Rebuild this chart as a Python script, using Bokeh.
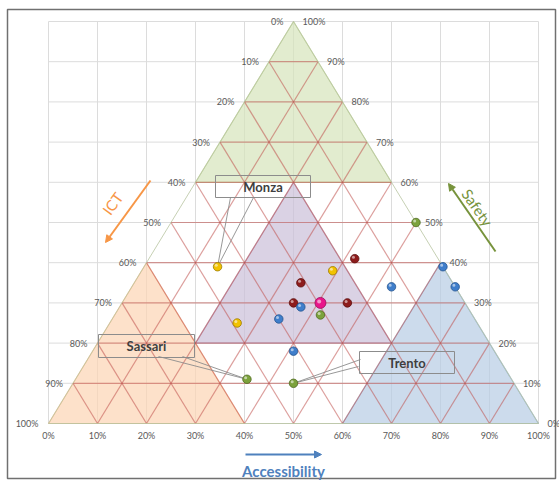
import math
from bokeh.plotting import figure
from bokeh.models import Range1d, Arrow, NormalHead, ColumnDataSource
from bokeh.core.properties import value
from bokeh.embed import file_html
from bokeh.resources import INLINE

# ---------------- data (percent: Accessibility, ICT, Safety) ----------------
accessibility = [15, 39, 26, 42, 34, 35, 46, 40.5, 37, 34, 41, 61, 66, 53, 50, 42, 35, 45]
ict           = [46, 23, 49, 17, 31, 35, 24, 29.5, 34, 40, 41, 0, 0, 13, 0, 31, 54, 45]
safety        = [39, 38, 25, 41, 35, 30, 30, 30, 29, 26, 18, 39, 34, 34, 50, 27, 11, 10]
group         = ["yellow"] * 3 + ["darkred"] * 4 + ["magenta"] + ["blue"] * 6 + ["green"] * 4

tick_pct = [0, 10, 20, 30, 40, 50, 60, 70, 80, 90, 100]
tick_labels = [f"{t}%" for t in tick_pct]

# zones as ternary vertices (A, I, S)
zone_safety = [(0, 40, 60), (40, 0, 60), (0, 0, 100)]
zone_ict = [(0, 100, 0), (40, 60, 0), (0, 60, 40)]
zone_access = [(100, 0, 0), (60, 40, 0), (60, 0, 40)]
zone_mid = [(20, 20, 60), (60, 20, 20), (20, 60, 20)]

callout_names = ["Monza", "Sassari", "Trento"]
callout_point = [0, 16, 17]  # index of point each callout refers to

# ---------------- layout helpers (pixel geometry of the page) ----------------
W, H = 559, 480
X0, XW, Y0, YH = 48, 490, 423, 402


def dx(px):
    return (px - X0) / XW


def dy(py):
    return (Y0 - py) / YH


def tern(a, i, s):
    return (a + s / 2) / 100.0, s / 100.0


p = figure(width=W, height=H, x_range=Range1d(dx(0), dx(W)), y_range=Range1d(dy(H), dy(0)),
           min_border=0, toolbar_location=None, output_backend="svg",
           x_axis_type=None, y_axis_type=None)
p.grid.visible = False
p.outline_line_color = None
p.background_fill_color = "white"
p.border_fill_color = "white"

FONT = value("Lato")

# outer frame
p.quad(left=[dx(7)], right=[dx(555)], top=[dy(9)], bottom=[dy(478)],
       fill_color=None, line_color="#707070", line_width=1.5)

# light rectangular gridlines
g_xs, g_ys = [], []
for t in tick_pct:
    g_xs.append([t / 100, t / 100]); g_ys.append([0, 1])
    g_xs.append([0, 1]); g_ys.append([t / 100, t / 100])
p.multi_line(g_xs, g_ys, line_color="#dcdcdc", line_width=1)

# zones
for zone, fill, edge in [(zone_safety, "#d7e4bd", "#9bbb59"),
                         (zone_ict, "#fcd5b5", "#f79646"),
                         (zone_access, "#b9cde5", "#4f81bd"),
                         (zone_mid, "#ccc1da", "#8064a2")]:
    pts = [tern(*v) for v in zone]
    p.patch([q[0] for q in pts], [q[1] for q in pts], fill_color=fill, fill_alpha=0.72,
            line_color=edge, line_alpha=0.4, line_width=1.2)

# ternary grid
l_xs, l_ys = [], []
for t in tick_pct[1:-1]:
    for a, b in [((0, 100 - t, t), (100 - t, 0, t)),
                 ((t, 100 - t, 0), (t, 0, 100 - t)),
                 ((100 - t, t, 0), (0, t, 100 - t))]:
        pa, pb = tern(*a), tern(*b)
        l_xs.append([pa[0], pb[0]]); l_ys.append([pa[1], pb[1]])
p.multi_line(l_xs, l_ys, line_color="#c0504d", line_alpha=0.55, line_width=1.2)

# outer triangle
corners = [tern(0, 100, 0), tern(100, 0, 0), tern(0, 0, 100), tern(0, 100, 0)]
p.line([c[0] for c in corners], [c[1] for c in corners], line_color="#b8c4a0", line_alpha=0.8, line_width=1)

# tick labels
lab_col = "#595959"
left_x, left_y, right_x, right_y, bot_x, bot_y = [], [], [], [], [], []
for t in tick_pct:
    s = 100 - t
    x, y = tern(0, t, s)
    left_x.append(x - 10 / XW); left_y.append(y)
    x, y = tern(100 - t, 0, t)
    right_x.append(x + 9 / XW); right_y.append(y)
    x, y = tern(t, 100 - t, 0)
    bot_x.append(x); bot_y.append(y - 12 / YH)
p.text(left_x, left_y, text=tick_labels, text_align="right", text_baseline="middle",
       text_font=FONT, text_font_size="9px", text_color=lab_col)
p.text(right_x, right_y, text=tick_labels, text_align="left", text_baseline="middle",
       text_font=FONT, text_font_size="9px", text_color=lab_col)
p.text(bot_x, bot_y, text=tick_labels, text_align="center", text_baseline="middle",
       text_font=FONT, text_font_size="9px", text_color=lab_col)

# callouts
px_pts = [tern(a, i, s) for a, i, s in zip(accessibility, ict, safety)]
boxes = [(215, 310, 175, 197), (98, 194, 334, 357), (359, 454, 351, 373)]
wedge_base = [((230, 197), (253, 197)), ((158, 356), (182, 356)), ((360, 359), (358, 366))]
w_xs, w_ys = [], []
for (b1, b2), k in zip(wedge_base, callout_point):
    tx, ty = px_pts[k]
    w_xs.append([dx(b1[0]), tx, dx(b2[0])]); w_ys.append([dy(b1[1]), ty, dy(b2[1])])
p.multi_line(w_xs, w_ys, line_color="#8c8c8c", line_width=0.9)
p.quad(left=[dx(b[0]) for b in boxes], right=[dx(b[1]) for b in boxes],
       top=[dy(b[2]) for b in boxes], bottom=[dy(b[3]) for b in boxes],
       fill_color=None, line_color="#8c8c8c", line_width=1)
p.text([dx((b[0] + b[1]) / 2) for b in boxes], [dy((b[2] + b[3]) / 2) for b in boxes],
       text=callout_names, text_align="center", text_baseline="middle",
       text_font=FONT, text_font_size="13px", text_font_style="bold", text_color="#3f3f3f")

# points
colors = {"yellow": ("#f2c200", "#9a7a00"), "darkred": ("#8e1c1c", "#5a0e0e"),
          "magenta": ("#e8168a", "#9a0c5a"), "blue": ("#3f7ecb", "#27558e"),
          "green": ("#7ca23c", "#4f6a22")}
src = ColumnDataSource(dict(
    x=[q[0] for q in px_pts], y=[q[1] for q in px_pts],
    fill=[colors[g][0] for g in group], edge=[colors[g][1] for g in group],
    size=[11 if g == "magenta" else 8.5 for g in group],
    hx=[q[0] - 1.3 / XW for q in px_pts], hy=[q[1] + 1.5 / YH for q in px_pts],
    hsize=[4 if g == "magenta" else 3 for g in group]))
p.scatter("x", "y", size="size", fill_color="fill", line_color="edge", line_width=0.8, source=src)
p.scatter("hx", "hy", size="hsize", fill_color="white", fill_alpha=0.55, line_color=None, source=src)

# axis arrows and titles
for (x1, y1, x2, y2, col) in [(150, 180, 105, 242, "#f79646"),
                              (495, 251, 448, 183, "#77933c"),
                              (245, 454, 321, 454, "#4f81bd")]:
    p.add_layout(Arrow(end=NormalHead(size=7, fill_color=col, line_color=col),
                       x_start=dx(x1), y_start=dy(y1), x_end=dx(x2), y_end=dy(y2),
                       line_color=col, line_width=2))

p.text([dx(112)], [dy(203)], text=["ICT"], angle=math.radians(54), text_align="center",
       text_baseline="middle", text_font=FONT, text_font_size="15px", text_color="#f79646")
p.text([dx(477)], [dy(207)], text=["Safety"], angle=math.radians(-55), text_align="center",
       text_baseline="middle", text_font=FONT, text_font_size="15px", text_color="#77933c")
p.text([dx(283)], [dy(470)], text=["Accessibility"], text_align="center",
       text_baseline="middle", text_font=FONT, text_font_size="15px", text_font_style="bold",
       text_color="#4f81bd")

open("out.html", "w").write(file_html(p, INLINE))
